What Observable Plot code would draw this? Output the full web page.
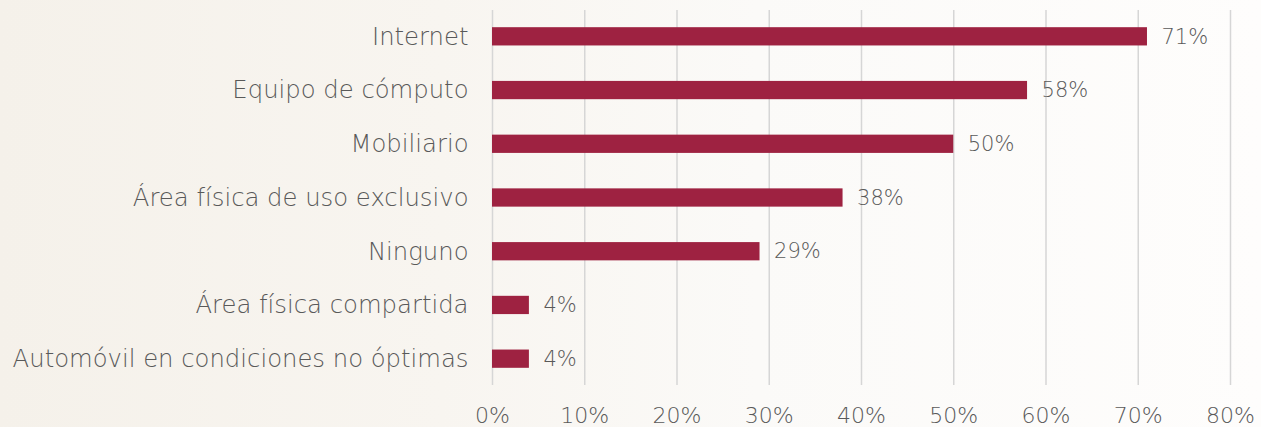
<!DOCTYPE html>
<html>
<head>
<meta charset="utf-8">
<script src="https://cdn.jsdelivr.net/npm/d3@7"></script>
<script src="https://cdn.jsdelivr.net/npm/@observablehq/plot@0.6"></script>
<style>
  html, body { margin: 0; padding: 0; }
  body {
    width: 1261px; height: 427px; overflow: hidden;
    background: linear-gradient(90deg, #f5f1ea 0%, #f8f5f0 35%, #fbfaf8 60%, #fefdfc 100%);
  }
  #chart svg { display: block; background: transparent; }
</style>
</head>
<body>
<div id="chart"></div>
<script>
const categories = [
  "Internet",
  "Equipo de cómputo",
  "Mobiliario",
  "Área física de uso exclusivo",
  "Ninguno",
  "Área física compartida",
  "Automóvil en condiciones no óptimas"
];
const values = [71, 58, 50, 38, 29, 4, 4];
const xTicks = [0, 10, 20, 30, 40, 50, 60, 70, 80];

const data = categories.map((c, i) => ({category: c, value: values[i]}));

const font = "'DejaVu Sans', 'Noto Sans', sans-serif";
const textColor = "#595959";

const chart = Plot.plot({
  width: 1261,
  height: 427,
  marginLeft: 492,
  marginRight: 31,
  marginTop: 10,
  marginBottom: 42,
  style: {background: "transparent", fontFamily: font, fontSize: "22px", color: textColor},
  x: {domain: [0, 80], ticks: xTicks, tickFormat: d => d + "%", label: null},
  y: {domain: categories, paddingInner: 0.66, paddingOuter: 0.32, round: false, label: null},
  marks: [
    Plot.gridX(xTicks, {stroke: "#d6d6d6", strokeOpacity: 1, strokeWidth: 1.5}),
    Plot.barX(data, {x: "value", y: "category", fill: "#9e2241"}),
    Plot.text(data, {x: "value", y: "category", text: d => d.value + "%", textAnchor: "start", dx: 14, fill: textColor, fontSize: 21, fontWeight: 200}),
    Plot.axisX({ticks: xTicks, tickFormat: d => d + "%", tickSize: 0, tickPadding: 22, fontSize: 22, fill: textColor, fontWeight: 200, label: null}),
    Plot.axisY({tickSize: 0, tickPadding: 24, fontSize: 24.3, fill: textColor, fontWeight: 200, label: null})
  ]
});
document.getElementById("chart").appendChild(chart);
</script>
</body>
</html>
